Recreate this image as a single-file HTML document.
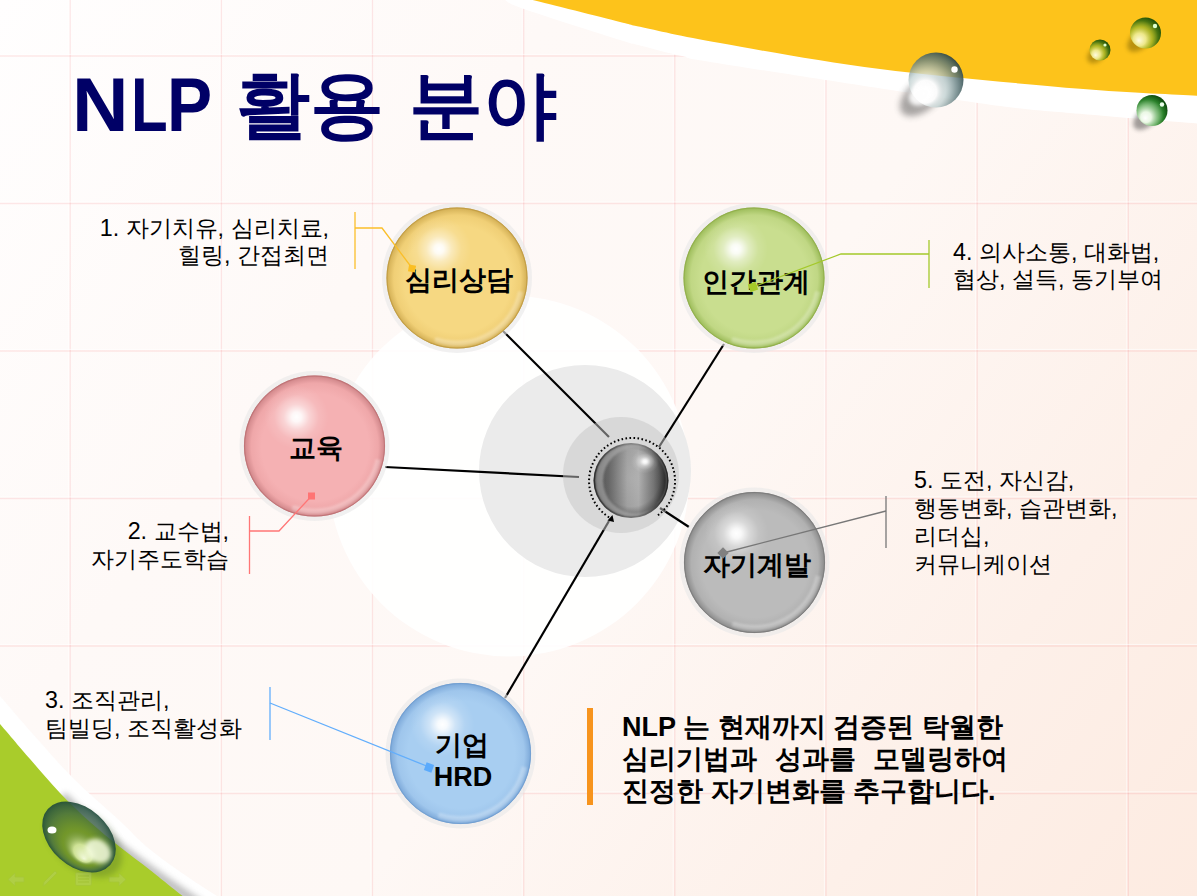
<!DOCTYPE html>
<html><head><meta charset="utf-8">
<style>
html,body{margin:0;padding:0;}
body{width:1197px;height:896px;overflow:hidden;position:relative;font-family:"Liberation Sans",sans-serif;background:#fdf6f3;}
#bg{position:absolute;left:0;top:0;}
.t{position:absolute;white-space:nowrap;color:#000;line-height:1;}
.lbl{position:absolute;white-space:nowrap;font-weight:bold;font-size:27px;color:#000;line-height:1;text-align:center;width:160px;}
.co{position:absolute;white-space:nowrap;font-size:23.3px;color:#000;line-height:27.6px;}
</style></head><body>
<svg id="bg" width="1197" height="896" viewBox="0 0 1197 896">
<defs>
  <linearGradient id="bgg" x1="0" y1="0" x2="1197" y2="896" gradientUnits="userSpaceOnUse">
    <stop offset="0" stop-color="#fffefe"/>
    <stop offset="0.3" stop-color="#fef9f7"/>
    <stop offset="0.55" stop-color="#fef8f5"/>
    <stop offset="0.8" stop-color="#fdf0e9"/>
    <stop offset="1" stop-color="#fdebe1"/>
  </linearGradient>
  <radialGradient id="hl" cx="0.5" cy="0.5" r="0.5">
    <stop offset="0" stop-color="#fff" stop-opacity="1"/>
    <stop offset="0.15" stop-color="#fff" stop-opacity="0.9"/>
    <stop offset="0.4" stop-color="#fff" stop-opacity="0.45"/>
    <stop offset="0.7" stop-color="#fff" stop-opacity="0.12"/>
    <stop offset="1" stop-color="#fff" stop-opacity="0"/>
  </radialGradient>
  <radialGradient id="gC" cx="0.5" cy="0.5" r="0.5" fx="0.68" fy="0.28">
    <stop offset="0" stop-color="#f6f6f6"/>
    <stop offset="0.15" stop-color="#c8c8c8"/>
    <stop offset="0.45" stop-color="#a0a0a0"/>
    <stop offset="0.85" stop-color="#6a6a6a"/>
    <stop offset="1" stop-color="#3a3a3a"/>
  </radialGradient>
  <linearGradient id="cH" x1="593.5" y1="0" x2="668.5" y2="0" gradientUnits="userSpaceOnUse">
    <stop offset="0" stop-color="#3c3c3c"/>
    <stop offset="0.08" stop-color="#5a5a5a"/>
    <stop offset="0.2" stop-color="#6a6a6a"/>
    <stop offset="0.45" stop-color="#a8a8a8"/>
    <stop offset="0.6" stop-color="#b2b2b2"/>
    <stop offset="0.8" stop-color="#7a7a7a"/>
    <stop offset="0.95" stop-color="#3e3e3e"/>
    <stop offset="1" stop-color="#333"/>
  </linearGradient>
  <radialGradient id="cV" cx="631" cy="478" r="38" gradientUnits="userSpaceOnUse">
    <stop offset="0" stop-color="#000" stop-opacity="0"/>
    <stop offset="0.75" stop-color="#000" stop-opacity="0.05"/>
    <stop offset="1" stop-color="#000" stop-opacity="0.35"/>
  </radialGradient>
  <filter id="bl3" x="-50%" y="-50%" width="200%" height="200%"><feGaussianBlur stdDeviation="3"/></filter>
  <filter id="bl2" x="-50%" y="-50%" width="200%" height="200%"><feGaussianBlur stdDeviation="2"/></filter>
  <radialGradient id="dT" cx="0.38" cy="0.62" r="0.68" fx="0.28" fy="0.75">
    <stop offset="0" stop-color="#ffffff" stop-opacity="1"/>
    <stop offset="0.3" stop-color="#ffffff" stop-opacity="0.95"/>
    <stop offset="0.5" stop-color="#c4d4d4" stop-opacity="0.75"/>
    <stop offset="0.75" stop-color="#6a8486" stop-opacity="0.8"/>
    <stop offset="0.92" stop-color="#3f5a5c" stop-opacity="0.9"/>
    <stop offset="1" stop-color="#2a4042" stop-opacity="0.95"/>
  </radialGradient>
  <radialGradient id="dY" cx="0.38" cy="0.62" r="0.68" fx="0.28" fy="0.75">
    <stop offset="0" stop-color="#fffbe0" stop-opacity="1"/>
    <stop offset="0.3" stop-color="#f0ec90" stop-opacity="0.95"/>
    <stop offset="0.55" stop-color="#a8b828" stop-opacity="0.85"/>
    <stop offset="0.8" stop-color="#3f7010" stop-opacity="0.95"/>
    <stop offset="1" stop-color="#1a4a05" stop-opacity="1"/>
  </radialGradient>
  <radialGradient id="dG" cx="0.38" cy="0.62" r="0.68" fx="0.28" fy="0.75">
    <stop offset="0" stop-color="#ffffff" stop-opacity="1"/>
    <stop offset="0.25" stop-color="#eefce8" stop-opacity="0.95"/>
    <stop offset="0.5" stop-color="#7fbf7a" stop-opacity="0.9"/>
    <stop offset="0.75" stop-color="#1f7a1f" stop-opacity="0.95"/>
    <stop offset="1" stop-color="#064006" stop-opacity="1"/>
  </radialGradient>
  <radialGradient id="dL" cx="0.5" cy="0.5" r="0.5" fx="0.72" fy="0.72">
    <stop offset="0" stop-color="#f2f9dc" stop-opacity="1"/>
    <stop offset="0.25" stop-color="#e0f0b0" stop-opacity="0.8"/>
    <stop offset="0.5" stop-color="#3f6a30" stop-opacity="0.28"/>
    <stop offset="0.8" stop-color="#2f5a48" stop-opacity="0.6"/>
    <stop offset="1" stop-color="#1f4a3a" stop-opacity="0.92"/>
  </radialGradient>
  <filter id="bl1" x="-20%" y="-20%" width="140%" height="140%"><feGaussianBlur stdDeviation="1.2"/></filter>
  
  <radialGradient id="sYb" cx="457" cy="278" r="70.5" fx="460" fy="284" gradientUnits="userSpaceOnUse">
    <stop offset="0" stop-color="#f6d882"/>
    <stop offset="0.76" stop-color="#f6d882"/>
    <stop offset="0.9" stop-color="#f0cf76"/>
    <stop offset="0.975" stop-color="#d9b65c"/>
    <stop offset="1" stop-color="#c09a40"/>
  </radialGradient>
  <radialGradient id="sGb" cx="754" cy="278" r="70.5" fx="757" fy="284" gradientUnits="userSpaceOnUse">
    <stop offset="0" stop-color="#c9de8f"/>
    <stop offset="0.76" stop-color="#c9de8f"/>
    <stop offset="0.9" stop-color="#c0d784"/>
    <stop offset="0.975" stop-color="#a4c263"/>
    <stop offset="1" stop-color="#8fae48"/>
  </radialGradient>
  <radialGradient id="sPb" cx="314.5" cy="446" r="70.5" fx="317.5" fy="452" gradientUnits="userSpaceOnUse">
    <stop offset="0" stop-color="#f5b1b3"/>
    <stop offset="0.76" stop-color="#f5b1b3"/>
    <stop offset="0.9" stop-color="#efa7a9"/>
    <stop offset="0.975" stop-color="#d68d90"/>
    <stop offset="1" stop-color="#bd7073"/>
  </radialGradient>
  <radialGradient id="sSb" cx="754.5" cy="562.5" r="70.5" fx="757.5" fy="568.5" gradientUnits="userSpaceOnUse">
    <stop offset="0" stop-color="#bbbbbb"/>
    <stop offset="0.76" stop-color="#bbbbbb"/>
    <stop offset="0.9" stop-color="#b1b1b1"/>
    <stop offset="0.975" stop-color="#939393"/>
    <stop offset="1" stop-color="#7a7a7a"/>
  </radialGradient>
  <radialGradient id="sBb" cx="460.5" cy="753.5" r="70.5" fx="463.5" fy="759.5" gradientUnits="userSpaceOnUse">
    <stop offset="0" stop-color="#a8cef1"/>
    <stop offset="0.76" stop-color="#a8cef1"/>
    <stop offset="0.9" stop-color="#9fc6ec"/>
    <stop offset="0.975" stop-color="#84afdd"/>
    <stop offset="1" stop-color="#6f9dd0"/>
  </radialGradient>
</defs>
<rect width="1197" height="896" fill="url(#bgg)"/>
<g><line x1="68.6" y1="0" x2="68.6" y2="896" stroke="#ffffff" stroke-width="1" opacity="0.6"/><line x1="70.2" y1="0" x2="70.2" y2="896" stroke="#f06a70" stroke-opacity="0.15" stroke-width="1.3"/><line x1="219.8" y1="0" x2="219.8" y2="896" stroke="#ffffff" stroke-width="1" opacity="0.6"/><line x1="221.4" y1="0" x2="221.4" y2="896" stroke="#f06a70" stroke-opacity="0.15" stroke-width="1.3"/><line x1="370.9" y1="0" x2="370.9" y2="896" stroke="#ffffff" stroke-width="1" opacity="0.6"/><line x1="372.5" y1="0" x2="372.5" y2="896" stroke="#f06a70" stroke-opacity="0.15" stroke-width="1.3"/><line x1="522.1" y1="0" x2="522.1" y2="896" stroke="#ffffff" stroke-width="1" opacity="0.6"/><line x1="523.7" y1="0" x2="523.7" y2="896" stroke="#f06a70" stroke-opacity="0.15" stroke-width="1.3"/><line x1="673.2" y1="0" x2="673.2" y2="896" stroke="#ffffff" stroke-width="1" opacity="0.6"/><line x1="674.8" y1="0" x2="674.8" y2="896" stroke="#f06a70" stroke-opacity="0.15" stroke-width="1.3"/><line x1="824.4" y1="0" x2="824.4" y2="896" stroke="#ffffff" stroke-width="1" opacity="0.6"/><line x1="826.0" y1="0" x2="826.0" y2="896" stroke="#f06a70" stroke-opacity="0.15" stroke-width="1.3"/><line x1="975.6" y1="0" x2="975.6" y2="896" stroke="#ffffff" stroke-width="1" opacity="0.6"/><line x1="977.2" y1="0" x2="977.2" y2="896" stroke="#f06a70" stroke-opacity="0.15" stroke-width="1.3"/><line x1="1126.7" y1="0" x2="1126.7" y2="896" stroke="#ffffff" stroke-width="1" opacity="0.6"/><line x1="1128.3" y1="0" x2="1128.3" y2="896" stroke="#f06a70" stroke-opacity="0.15" stroke-width="1.3"/><line x1="0" y1="54.4" x2="1197" y2="54.4" stroke="#ffffff" stroke-width="1" opacity="0.6"/><line x1="0" y1="56.0" x2="1197" y2="56.0" stroke="#f06a70" stroke-opacity="0.15" stroke-width="1.3"/><line x1="0" y1="201.9" x2="1197" y2="201.9" stroke="#ffffff" stroke-width="1" opacity="0.6"/><line x1="0" y1="203.5" x2="1197" y2="203.5" stroke="#f06a70" stroke-opacity="0.15" stroke-width="1.3"/><line x1="0" y1="349.4" x2="1197" y2="349.4" stroke="#ffffff" stroke-width="1" opacity="0.6"/><line x1="0" y1="351.0" x2="1197" y2="351.0" stroke="#f06a70" stroke-opacity="0.15" stroke-width="1.3"/><line x1="0" y1="496.9" x2="1197" y2="496.9" stroke="#ffffff" stroke-width="1" opacity="0.6"/><line x1="0" y1="498.5" x2="1197" y2="498.5" stroke="#f06a70" stroke-opacity="0.15" stroke-width="1.3"/><line x1="0" y1="644.4" x2="1197" y2="644.4" stroke="#ffffff" stroke-width="1" opacity="0.6"/><line x1="0" y1="646.0" x2="1197" y2="646.0" stroke="#f06a70" stroke-opacity="0.15" stroke-width="1.3"/><line x1="0" y1="791.9" x2="1197" y2="791.9" stroke="#ffffff" stroke-width="1" opacity="0.6"/><line x1="0" y1="793.5" x2="1197" y2="793.5" stroke="#f06a70" stroke-opacity="0.15" stroke-width="1.3"/></g>
<!-- top right swoosh -->
<path d="M505,0 C508.2,1.5 504.8,2.3 524.0,9.0 C543.2,15.7 600.7,33.9 620.0,40.0 C639.3,46.1 629.7,42.7 640.0,45.4 C650.3,48.1 668.7,53.0 682.0,56.0 C695.3,59.0 670.7,55.7 720.0,63.5 C769.3,71.3 918.0,94.6 978.0,103.0 C1038.0,111.4 1043.5,110.4 1080.0,113.8 C1116.5,117.2 1177.5,121.9 1197.0,123.5 L1197,0 Z" fill="#ffffff"/>
<path d="M532.7,0 C547.2,3.6 602.1,17.4 620.0,21.9 C637.9,26.3 623.3,23.2 640.0,26.7 C656.7,30.2 680.0,36.1 720.0,43.1 C760.0,50.1 820.0,61.4 880.0,69.0 C940.0,76.6 1027.2,84.3 1080.0,88.8 C1132.8,93.2 1177.5,94.5 1197.0,95.7 L1197,0 Z" fill="#fdc31b"/>
<!-- bottom left swoosh -->
<path d="M0,696 C6.7,703.7 27.5,728.0 40.0,742.0 C52.5,756.0 61.7,766.8 75.0,780.0 C88.3,793.2 108.0,809.8 120.0,821.0 C132.0,832.2 136.7,838.3 147.0,847.0 C157.3,855.7 170.3,864.8 182.0,873.0 C193.7,881.2 211.2,892.2 217.0,896.0 L0,896 Z" fill="#ffffff"/>
<clipPath id="cwb"><path d="M0,696 C6.7,703.7 27.5,728.0 40.0,742.0 C52.5,756.0 61.7,766.8 75.0,780.0 C88.3,793.2 108.0,809.8 120.0,821.0 C132.0,832.2 136.7,838.3 147.0,847.0 C157.3,855.7 170.3,864.8 182.0,873.0 C193.7,881.2 211.2,892.2 217.0,896.0 L0,896 Z"/></clipPath>
<g clip-path="url(#cwb)"><path d="M62,796 C90,825 125,855 200,905" fill="none" stroke="#8a8a8a" stroke-width="10" opacity="0.55" filter="url(#bl3)"/></g>
<path d="M0,724 C5.0,729.8 20.0,747.5 30.0,759.0 C40.0,770.5 50.0,782.5 60.0,793.0 C70.0,803.5 80.0,813.0 90.0,822.0 C100.0,831.0 110.0,839.0 120.0,847.0 C130.0,855.0 139.7,861.9 150.0,870.0 C160.3,878.1 176.3,891.2 182.0,895.5 C187.7,899.8 183.7,895.9 184.0,896.0 L0,896 Z" fill="#a9cc2b"/>
<!-- droplets -->
<g>
  <ellipse cx="922" cy="96" rx="26" ry="15" transform="rotate(-40 922 96)" fill="#404040" opacity="0.45" filter="url(#bl3)"/>
  <circle cx="936" cy="80" r="27.5" fill="url(#dT)"/>
  <ellipse cx="921" cy="95" rx="13" ry="10" transform="rotate(-30 921 95)" fill="#fff" opacity="0.9" filter="url(#bl2)"/>
  <circle cx="954.5" cy="69.5" r="3.2" fill="#fff"/>
  <ellipse cx="1096" cy="55" rx="10" ry="7" transform="rotate(-40 1096 55)" fill="#6b5400" opacity="0.45" filter="url(#bl2)"/>
  <circle cx="1100" cy="50" r="10.5" fill="url(#dY)"/>
  <circle cx="1105" cy="45" r="1.6" fill="#dfffd0"/>
  <ellipse cx="1140" cy="40" rx="15" ry="9" transform="rotate(-40 1140 40)" fill="#6b5400" opacity="0.45" filter="url(#bl2)"/>
  <circle cx="1145.5" cy="33" r="15.5" fill="url(#dY)"/>
  <circle cx="1155" cy="26" r="2.2" fill="#dfffd0"/>
  <ellipse cx="1146" cy="118" rx="15" ry="9" transform="rotate(-40 1146 118)" fill="#303030" opacity="0.45" filter="url(#bl2)"/>
  <circle cx="1152" cy="110.5" r="15.5" fill="url(#dG)"/>
  <circle cx="1162" cy="104.5" r="2.2" fill="#eaffea"/>
  <ellipse cx="84" cy="842" rx="44" ry="28" transform="rotate(40 84 842)" fill="#3a5a20" opacity="0.3" filter="url(#bl3)"/>
  <ellipse cx="79" cy="837" rx="42" ry="29" transform="rotate(42 79 837)" fill="url(#dL)"/>
  <ellipse cx="98" cy="851" rx="14" ry="11" transform="rotate(40 98 851)" fill="#f4fbe0" opacity="0.85" filter="url(#bl2)"/>
  <ellipse cx="52" cy="830" rx="4.5" ry="3.5" fill="#fff"/>
</g>
<!-- nav icons -->
<g opacity="0.22" fill="#c8d8a0" stroke="#9ab060" stroke-width="0.8">
  <path d="M8,879.5 L15,873 L15,877 L24,877 L24,882 L15,882 L15,886 Z"/>
  <path d="M43,886 L44,882 L55,871 L57,873 L46,884 Z"/>
  <rect x="75.5" y="872.5" width="16" height="13" rx="1.5"/>
  <path d="M78,876 H89 M78,879 H89 M78,882 H89" stroke="#8aa050" stroke-width="1.2" fill="none"/>
  <path d="M126,879.5 L119,873 L119,877 L109,877 L109,882 L119,882 L119,886 Z"/>
</g>
<!-- white circle -->
<circle cx="509" cy="476" r="180.5" fill="#ffffff" fill-opacity="0.9"/>
<circle cx="585" cy="471" r="106" fill="#ebebeb"/>
<!-- connector lines -->
<g stroke="#000" stroke-width="2.2" fill="none">
  <line x1="503" y1="331" x2="609" y2="437"/>
  <line x1="724" y1="344" x2="659" y2="447"/>
  <line x1="385" y1="467" x2="579" y2="477"/>
  <line x1="660" y1="508" x2="689" y2="527"/>
  <line x1="505" y1="698" x2="609" y2="521"/>
</g>
<circle cx="621" cy="475" r="58" fill="#c6c6c6" fill-opacity="0.5"/>
<path d="M612.5,519.3 A43,43 0 1 1 657.3,515.8" fill="none" stroke="#000" stroke-width="2" stroke-dasharray="1.6 2.4"/>
<path d="M607.5,520.5 L614,522 L612.5,515 Z" fill="#000"/>
<g>
  <circle cx="631" cy="480.5" r="37.5" fill="url(#cH)"/>
  <circle cx="631" cy="480.5" r="37.5" fill="url(#cV)"/>
  <clipPath id="ccl"><circle cx="631" cy="480.5" r="36"/></clipPath>
  <path d="M595,480.5 a36,36 0 1 0 72,0 a36,36 0 1 0 -72,0 Z M603,480.5 a33,33 0 1 0 66,0 a33,33 0 1 0 -66,0 Z" fill-rule="evenodd" fill="#b4b4b4" opacity="0.6" clip-path="url(#ccl)" filter="url(#bl1)"/>
  <ellipse cx="645" cy="461.5" rx="14" ry="12" fill="url(#hl)"/>
</g>

  <circle cx="457" cy="278" r="75.0" fill="#e9e9e9" fill-opacity="0.62"/>
  <circle cx="457" cy="278" r="70.5" fill="url(#sYb)"/>
  <circle cx="439" cy="249" r="32" fill="url(#hl)" opacity="1.0"/>
  <path d="M523.5,292.1 A68.0,68.0 0 0 1 436.0,342.7 A2.8,2.8 0 0 1 437.7,337.4 A62.5,62.5 0 0 0 518.1,291.0 Z" fill="#fff" opacity="0.25" filter="url(#bl1)"/>
  <circle cx="457" cy="278" r="70.1" fill="none" stroke="#c09a40" stroke-width="0.9" opacity="0.7"/>
  <circle cx="754" cy="278" r="75.0" fill="#e9e9e9" fill-opacity="0.62"/>
  <circle cx="754" cy="278" r="70.5" fill="url(#sGb)"/>
  <circle cx="736" cy="249" r="32" fill="url(#hl)" opacity="1.0"/>
  <path d="M820.5,292.1 A68.0,68.0 0 0 1 733.0,342.7 A2.8,2.8 0 0 1 734.7,337.4 A62.5,62.5 0 0 0 815.1,291.0 Z" fill="#fff" opacity="0.25" filter="url(#bl1)"/>
  <circle cx="754" cy="278" r="70.1" fill="none" stroke="#8fae48" stroke-width="0.9" opacity="0.7"/>
  <circle cx="314.5" cy="446" r="75.0" fill="#e9e9e9" fill-opacity="0.62"/>
  <circle cx="314.5" cy="446" r="70.5" fill="url(#sPb)"/>
  <circle cx="296.5" cy="417" r="32" fill="url(#hl)" opacity="1.0"/>
  <path d="M381.0,460.1 A68.0,68.0 0 0 1 293.5,510.7 A2.8,2.8 0 0 1 295.2,505.4 A62.5,62.5 0 0 0 375.6,459.0 Z" fill="#fff" opacity="0.25" filter="url(#bl1)"/>
  <circle cx="314.5" cy="446" r="70.1" fill="none" stroke="#bd7073" stroke-width="0.9" opacity="0.7"/>
  <circle cx="754.5" cy="562.5" r="75.0" fill="#e9e9e9" fill-opacity="0.62"/>
  <circle cx="754.5" cy="562.5" r="70.5" fill="url(#sSb)"/>
  <circle cx="736.5" cy="533.5" r="32" fill="url(#hl)" opacity="1.0"/>
  <path d="M821.0,576.6 A68.0,68.0 0 0 1 733.5,627.2 A2.8,2.8 0 0 1 735.2,621.9 A62.5,62.5 0 0 0 815.6,575.5 Z" fill="#fff" opacity="0.25" filter="url(#bl1)"/>
  <circle cx="754.5" cy="562.5" r="70.1" fill="none" stroke="#7a7a7a" stroke-width="0.9" opacity="0.7"/>
  <circle cx="460.5" cy="753.5" r="75.0" fill="#e9e9e9" fill-opacity="0.62"/>
  <circle cx="460.5" cy="753.5" r="70.5" fill="url(#sBb)"/>
  <circle cx="442.5" cy="724.5" r="32" fill="url(#hl)" opacity="1.0"/>
  <path d="M527.0,767.6 A68.0,68.0 0 0 1 439.5,818.2 A2.8,2.8 0 0 1 441.2,812.9 A62.5,62.5 0 0 0 521.6,766.5 Z" fill="#fff" opacity="0.25" filter="url(#bl1)"/>
  <circle cx="460.5" cy="753.5" r="70.1" fill="none" stroke="#6f9dd0" stroke-width="0.9" opacity="0.7"/>
<!-- orange bar -->
<rect x="587" y="708" width="6" height="97" fill="#f7941d"/>
</svg>

<div class="t" style="left:71.5px;top:67px;font-size:76px;font-weight:bold;color:#000066;transform:scaleX(1.03);transform-origin:0 0;">N</div>
<div class="t" style="left:131px;top:67px;font-size:76px;font-weight:bold;color:#000066;transform:scaleX(0.79);transform-origin:0 0;">L</div>
<div class="t" style="left:167px;top:67px;font-size:76px;font-weight:bold;color:#000066;transform:scaleX(0.89);transform-origin:0 0;">P</div>
<div class="t" style="left:236px;top:68px;font-size:74px;font-weight:bold;color:#000066;">활용</div>
<div class="t" style="left:409px;top:68px;font-size:74px;font-weight:bold;color:#000066;">분야</div>

<div class="lbl" style="left:378.5px;top:267px;">심리상담</div>
<div class="lbl" style="left:675.75px;top:269px;">인간관계</div>
<div class="lbl" style="left:236px;top:435px;">교육</div>
<div class="lbl" style="left:677px;top:552px;">자기계발</div>
<div class="lbl" style="left:382px;top:732px;">기업</div>
<div class="lbl" style="left:383px;top:764px;">HRD</div>

<svg style="position:absolute;left:0;top:0;" width="1197" height="896" viewBox="0 0 1197 896">
<!-- callout lines -->
<g fill="none" stroke-width="1.3">
  <polyline points="355,212 355,269" stroke="#fbbf2a"/>
  <polyline points="355,228 382,228 412,268" stroke="#fbbf2a"/>
  <polyline points="929,240 929,288" stroke="#a4c92a"/>
  <polyline points="929,254 841,254 753,287" stroke="#a4c92a"/>
  <polyline points="249.5,516 249.5,574" stroke="#ff7676"/>
  <polyline points="249.5,531 279,531 311.5,496" stroke="#ff7676"/>
  <polyline points="886,496 886,548" stroke="#777"/>
  <polyline points="886,511 723,553" stroke="#777"/>
  <polyline points="270,687 270,740" stroke="#62aefc"/>
  <polyline points="270,703 429,767" stroke="#62aefc"/>
</g>
<rect x="408.5" y="265" width="7" height="7" fill="#fbbf22" transform="rotate(10 412 268.5)"/>
<rect x="749" y="283" width="8" height="8" fill="#a4c92a" transform="rotate(-20 753 287)"/>
<rect x="308" y="492.5" width="7" height="7" fill="#ff7474"/>
<rect x="719" y="549" width="8" height="8" fill="#808080" transform="rotate(45 723 553)"/>
<rect x="425" y="763.5" width="8" height="8" fill="#5aaafc" transform="rotate(20 429 767.5)"/>
</svg>

<div class="co" style="right:868px;top:214.5px;text-align:right;line-height:27px;">1. 자기치유, 심리치료,<br>힐링, 간접최면</div>
<div class="co" style="left:953px;top:238.5px;line-height:27px;">4. 의사소통, 대화법,<br>협상, 설득, 동기부여</div>
<div class="co" style="right:968px;top:517px;text-align:right;line-height:28px;">2. 교수법,<br>자기주도학습</div>
<div class="co" style="left:914px;top:466px;line-height:28px;">5. 도전, 자신감,<br>행동변화, 습관변화,<br>리더십,<br>커뮤니케이션</div>
<div class="co" style="left:45px;top:686px;line-height:28px;">3. 조직관리,<br>팀빌딩, 조직활성화</div>

<div class="t" style="left:622px;top:710.5px;font-size:27px;font-weight:bold;line-height:32px;">NLP 는 현재까지 검증된 탁월한<br><span style="word-spacing:1.3px">심리기법과&nbsp; 성과를&nbsp; 모델링하여</span><br>진정한 자기변화를 추구합니다.</div>
</body></html>
